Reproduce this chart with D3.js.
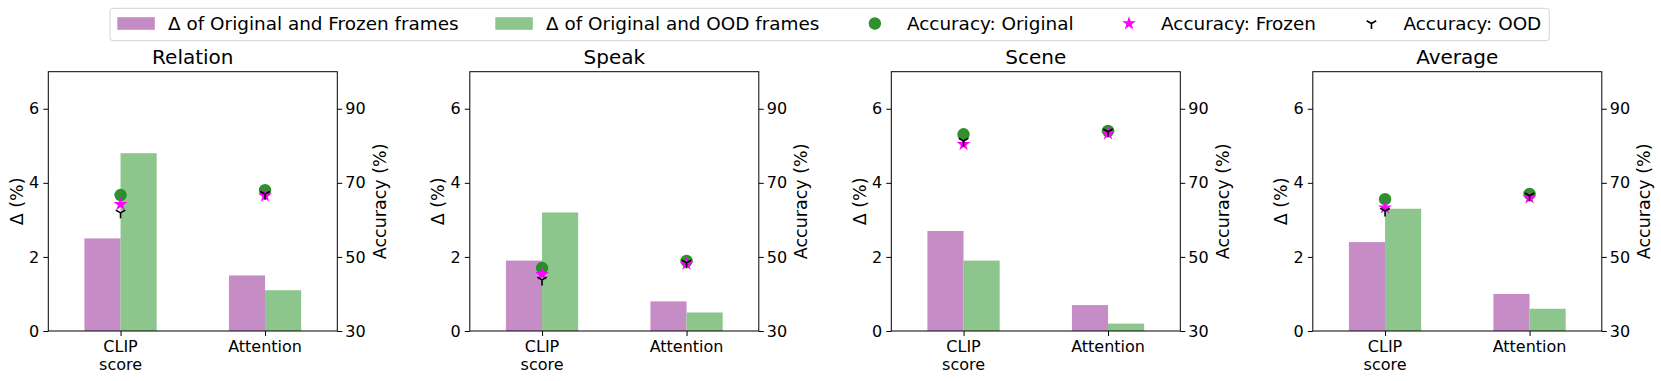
<!DOCTYPE html>
<html>
<head>
<meta charset="utf-8">
<script src="https://cdn.jsdelivr.net/npm/d3@7"></script>
<style>
  body { margin: 0; background: #fff; }
  text { font-family: "DejaVu Sans", sans-serif; fill: #000; }
</style>
</head>
<body>
<div id="chart"></div>
<script>
// Data
const panels = ["Relation", "Speak", "Scene", "Average"];
const methods = ["CLIP score", "Attention"];
const methodLabels = [["CLIP", "score"], ["Attention"]];

// bars: delta (%)
const deltaFrozen = [[2.5, 1.5], [1.9, 0.8], [2.7, 0.7], [2.4, 1.0]];
const deltaOOD = [[4.8, 1.1], [3.2, 0.5], [1.9, 0.2], [3.3, 0.6]];

// markers: accuracy (%)
const accOriginal = [[66.7, 68.0], [47.0, 48.9], [83.1, 84.0], [65.6, 67.0]];
const accFrozen = [[64.2, 66.5], [45.3, 48.1], [80.4, 83.3], [63.3, 66.0]];
const accOOD = [[61.9, 66.9], [43.8, 48.4], [81.3, 83.8], [62.4, 66.5]];

const deltaTicks = [0, 2, 4, 6];
const accTicks = [30, 50, 70, 90];

const legendNames = ["\u0394 of Original and Frozen frames", "\u0394 of Original and OOD frames",
  "Accuracy: Original", "Accuracy: Frozen", "Accuracy: OOD"];

const colors = {
  frozenBar: "rgb(198,140,198)",
  oodBar: "rgb(140,198,140)",
  original: "#238b23",
  frozen: "#ff00ff",
  ood: "#000"
};

let dimentions = {
  width: 1661,
  height: 381,
  axW: 289,
  axH: 259.3,
  top: 71.7,
  firstLeft: 48.3,
  step: 421.5
};

const svg = d3.select("#chart")
  .append("svg")
  .attr("width", dimentions.width)
  .attr("height", dimentions.height);

// marker shapes
const starPath = d3.symbol().type(d3.symbolStar).size(60)();
const s = 5.5;
const triDownPath = `M0,0L0,${s}M0,0L${-0.866 * s},${-0.5 * s}M0,0L${0.866 * s},${-0.5 * s}`;

function drawMarker(g, kind, x, y) {
  if (kind === "original") {
    g.append("circle").attr("cx", x).attr("cy", y).attr("r", 6.2)
      .attr("fill", colors.original).attr("fill-opacity", 0.95);
  } else if (kind === "frozen") {
    g.append("path").attr("d", starPath).attr("transform", `translate(${x},${y})`)
      .attr("fill", colors.frozen);
  } else {
    g.append("path").attr("d", triDownPath).attr("transform", `translate(${x},${y})`)
      .attr("fill", "none").attr("stroke", colors.ood).attr("stroke-width", 1.6);
  }
}

panels.forEach(function(name, i) {
  const left = dimentions.firstLeft + i * dimentions.step;
  const g = svg.append("g").attr("transform", `translate(${left},${dimentions.top})`);

  const x = d3.scaleLinear().domain([-0.5, 1.5]).range([0, dimentions.axW]);
  const y = d3.scaleLinear().domain([0, 7]).range([dimentions.axH, 0]);
  const yAcc = d3.scaleLinear().domain([30, 100]).range([dimentions.axH, 0]);
  const barW = x(0.25) - x(0);

  // bars
  g.selectAll(".bar-frozen")
    .data(deltaFrozen[i])
    .enter().append("rect")
    .attr("x", (d, j) => x(j - 0.25))
    .attr("y", d => y(d))
    .attr("width", barW)
    .attr("height", d => y(0) - y(d))
    .attr("fill", colors.frozenBar);

  g.selectAll(".bar-ood")
    .data(deltaOOD[i])
    .enter().append("rect")
    .attr("x", (d, j) => x(j))
    .attr("y", d => y(d))
    .attr("width", barW)
    .attr("height", d => y(0) - y(d))
    .attr("fill", colors.oodBar);

  // accuracy markers
  methods.forEach(function(m, j) {
    drawMarker(g, "original", x(j), yAcc(accOriginal[i][j]));
    drawMarker(g, "frozen", x(j), yAcc(accFrozen[i][j]));
    drawMarker(g, "ood", x(j), yAcc(accOOD[i][j]));
  });

  // frame
  g.append("rect").attr("width", dimentions.axW).attr("height", dimentions.axH)
    .attr("fill", "none").attr("stroke", "#000").attr("stroke-width", 1);

  // left axis
  const leftAxis = g.append("g")
    .call(d3.axisLeft(y).tickValues(deltaTicks).tickFormat(d3.format("d")).tickSize(5).tickPadding(4));
  leftAxis.select(".domain").remove();
  leftAxis.selectAll("text").style("font-size", "16px").style("font-family", "DejaVu Sans");

  // right axis
  const rightAxis = g.append("g").attr("transform", `translate(${dimentions.axW},0)`)
    .call(d3.axisRight(yAcc).tickValues(accTicks).tickFormat(d3.format("d")).tickSize(5).tickPadding(3));
  rightAxis.select(".domain").remove();
  rightAxis.selectAll("text").style("font-size", "16px").style("font-family", "DejaVu Sans");

  // bottom axis, labels wrapped on two lines
  const bottomAxis = g.append("g").attr("transform", `translate(0,${dimentions.axH})`)
    .call(d3.axisBottom(x).tickValues([0, 1]).tickSize(5).tickFormat(""));
  bottomAxis.select(".domain").remove();
  methodLabels.forEach(function(lines, j) {
    const t = g.append("text")
      .attr("x", x(j))
      .attr("y", dimentions.axH + 21)
      .attr("text-anchor", "middle")
      .style("font-size", "16px");
    lines.forEach(function(line, k) {
      t.append("tspan").attr("x", x(j)).attr("dy", k === 0 ? 0 : 18.4).text(line);
    });
  });

  // title
  g.append("text")
    .attr("x", dimentions.axW / 2)
    .attr("y", -7.5)
    .attr("text-anchor", "middle")
    .style("font-size", "20px")
    .text(name);

  // axis labels
  g.append("text")
    .attr("transform", `translate(-25.5,${dimentions.axH / 2}) rotate(-90)`)
    .attr("text-anchor", "middle")
    .style("font-size", "17.5px")
    .text("\u0394 (%)");

  g.append("text")
    .attr("transform", `translate(${dimentions.axW + 48.5},${dimentions.axH / 2}) rotate(-90)`)
    .attr("text-anchor", "middle")
    .style("font-size", "17.5px")
    .text("Accuracy (%)");
});

// Legend
function createLegend() {
  const legend = svg.append("g").attr("class", "legend");
  const box = legend.append("rect")
    .attr("y", 8.3).attr("height", 32.4)
    .attr("rx", 3)
    .attr("fill", "#fff").attr("fill-opacity", 0.8)
    .attr("stroke", "#d3d3d3").attr("stroke-width", 1);

  const handleLen = 37.5, pad = 13.3, colSpacing = 36.7;
  let cx = 117.3;
  const cy = 23.5;
  legendNames.forEach(function(label, i) {
    const item = legend.append("g");
    if (i === 0 || i === 1) {
      item.append("rect")
        .attr("x", cx).attr("y", cy - 6.3)
        .attr("width", handleLen).attr("height", 12.6)
        .attr("fill", i === 0 ? colors.frozenBar : colors.oodBar);
    } else {
      drawMarker(item, ["original", "frozen", "ood"][i - 2], cx + handleLen / 2, cy);
    }
    const t = item.append("text")
      .attr("x", cx + handleLen + pad)
      .attr("y", cy + 6.5)
      .style("font-size", "18.4px")
      .text(label);
    cx = cx + handleLen + pad + t.node().getComputedTextLength() + colSpacing;
  });
  box.attr("x", 110).attr("width", cx - colSpacing + 8 - 110);
}

createLegend();
</script>
</body>
</html>
